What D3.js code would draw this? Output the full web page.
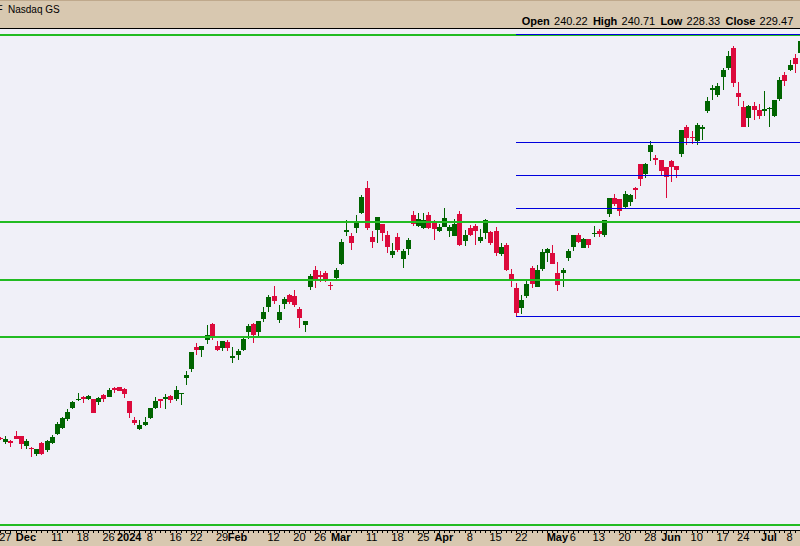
<!DOCTYPE html>
<html>
<head>
<meta charset="utf-8">
<script src="https://cdn.jsdelivr.net/npm/d3@7/dist/d3.min.js"></script>
<style>
  html, body { margin: 0; padding: 0; background: #f0f0f8; }
  svg { display: block; }
</style>
</head>
<body>
<div id="chart"></div>
<script>
// Trading sessions, listed per month (day of month)
const sessions = [
  ["2023-11", [24, 27, 28, 29, 30]],
  ["2023-12", [1, 4, 5, 6, 7, 8, 11, 12, 13, 14, 15, 18, 19, 20, 21, 22, 26, 27, 28, 29]],
  ["2024-01", [2, 3, 4, 5, 8, 9, 10, 11, 12, 16, 17, 18, 19, 22, 23, 24, 25, 26, 29, 30, 31]],
  ["2024-02", [1, 2, 5, 6, 7, 8, 9, 12, 13, 14, 15, 16, 20, 21, 22, 23, 26, 27, 28, 29]],
  ["2024-03", [1, 4, 5, 6, 7, 8, 11, 12, 13, 14, 15, 18, 19, 20, 21, 22, 25, 26, 27, 28]],
  ["2024-04", [1, 2, 3, 4, 5, 8, 9, 10, 11, 12, 15, 16, 17, 18, 19, 22, 23, 24, 25, 26, 29, 30]],
  ["2024-05", [1, 2, 3, 6, 7, 8, 9, 10, 13, 14, 15, 16, 17, 20, 21, 22, 23, 24, 28, 29, 30, 31]],
  ["2024-06", [3, 4, 5, 6, 7, 10, 11, 12, 13, 14, 17, 18, 20, 21, 24, 25, 26, 27, 28]],
  ["2024-07", [1, 2, 3, 5, 8, 9, 10]]
];

// Daily OHLC, one value per session
const opens = [
  123.19, 121.99, 122.2, 123.79, 123.79, 120.79, 120.19, 118.39, 121.69, 119.59,
  121.51, 124.39, 126.1, 128.8, 132.1, 134.5, 135.49, 134.8, 134.8, 133.9,
  136.0, 135.4, 138.19, 138.4, 137.8, 134.2, 128.41, 125.89, 127.09, 129.19,
  132.19, 134.8, 134.89, 135.7, 134.89, 136.3, 141.1, 143.8, 150.4, 149.5,
  152.5, 157.3, 150.7, 150.19, 151.9, 147.25, 148.0, 149.5, 154.9, 157.3,
  154.9, 158.8, 162.4, 165.7, 158.5, 163.3, 166.0, 165.7, 161.8, 157.15,
  168.4, 173.5, 172.0, 172.6, 169.09, 171.1, 175.3, 184.99, 183.7, 186.1,
  190.6, 198.1, 183.4, 185.5, 187.3, 184.0, 178.0, 183.4, 176.8, 179.8,
  190.0, 186.7, 186.1, 190.0, 188.2, 185.2, 186.4, 185.2, 183.7, 190.3,
  182.2, 186.1, 186.7, 182.2, 184.6, 184.9, 185.2, 178.3, 181.0, 172.3,
  168.1, 162.1, 165.7, 174.1, 168.4, 173.8, 178.6, 178.6, 172.6, 172.6,
  177.1, 180.4, 184.0, 180.1, 182.8, 184.15, 185.2, 184.0, 190.3, 195.1,
  194.8, 192.4, 193.9, 198.1, 205.3, 202.3, 208.9, 207.1, 206.5, 204.4,
  206.2, 204.7, 208.3, 216.4, 213.4, 212.2, 215.95, 221.2, 227.5, 226.0,
  231.4, 234.1, 240.22, 226.6, 222.4, 219.1, 222.7, 221.5, 221.35, 221.8,
  219.7, 224.8, 232.0, 233.5, 237.1, 238.69
];
const highs = [
  123.4, 123.7, 122.5, 125.2, 123.79, 122.8, 120.49, 119.8, 121.99, 122.5,
  124.0, 127.99, 129.49, 131.8, 134.2, 136.6, 135.7, 136.0, 134.89, 135.4,
  136.3, 138.1, 138.49, 138.5, 138.01, 134.3, 129.4, 128.5, 129.4, 132.2,
  135.31, 134.8, 136.3, 136.09, 138.7, 136.6, 143.2, 148.9, 151.6, 150.7,
  157.0, 157.6, 152.11, 152.11, 152.41, 150.4, 149.8, 153.01, 157.3, 157.6,
  158.2, 162.4, 166.0, 168.7, 163.0, 165.4, 166.3, 167.5, 162.4, 158.2,
  172.3, 174.7, 173.2, 173.2, 169.99, 174.1, 182.8, 188.5, 184.6, 190.0,
  196.0, 200.2, 185.2, 189.4, 187.3, 185.2, 181.6, 184.6, 179.8, 183.1,
  191.2, 190.6, 190.6, 190.9, 188.5, 187.3, 192.1, 187.0, 188.8, 191.2,
  185.5, 187.0, 187.3, 185.8, 188.8, 185.2, 186.4, 181.6, 181.6, 173.8,
  169.6, 166.0, 170.2, 174.7, 175.0, 179.8, 180.1, 181.0, 175.9, 174.1,
  179.8, 184.0, 184.6, 183.1, 182.8, 186.7, 185.8, 188.5, 195.1, 196.3,
  194.8, 197.2, 196.3, 198.4, 205.3, 205.6, 212.2, 208.0, 206.5, 204.4,
  206.5, 204.7, 215.5, 217.0, 215.2, 217.6, 217.0, 225.4, 229.0, 229.6,
  234.1, 239.2, 240.71, 229.9, 224.2, 223.0, 223.9, 223.3, 227.2, 222.4,
  224.5, 231.4, 232.9, 236.5, 238.3, 244.15
];
const lows = [
  122.5, 121.3, 120.49, 122.89, 119.8, 119.71, 117.49, 117.79, 118.09, 118.9,
  121.3, 124.09, 125.71, 128.2, 131.8, 134.2, 133.69, 134.59, 130.6, 133.09,
  133.99, 135.31, 136.69, 137.2, 135.19, 129.19, 127.0, 125.5, 126.79, 128.89,
  131.89, 132.19, 131.89, 133.69, 134.29, 133.09, 139.0, 142.99, 148.0, 147.49,
  151.3, 152.5, 149.2, 149.2, 149.2, 145.69, 146.5, 149.2, 152.89, 151.6,
  153.7, 158.05, 160.9, 163.3, 157.6, 161.8, 163.3, 162.4, 156.1, 154.9,
  167.5, 168.1, 169.9, 169.9, 167.5, 170.2, 175.0, 183.7, 179.5, 184.6,
  190.3, 185.5, 180.1, 181.6, 182.2, 178.6, 177.1, 178.9, 174.1, 178.0,
  186.7, 186.4, 185.8, 185.8, 182.5, 184.9, 186.4, 183.4, 183.7, 180.7,
  180.7, 183.7, 181.0, 181.6, 182.8, 181.0, 177.7, 177.7, 173.2, 168.4,
  159.7, 160.3, 165.1, 168.1, 168.4, 173.2, 175.9, 175.3, 167.2, 168.4,
  176.2, 179.2, 181.6, 180.1, 180.1, 183.4, 183.4, 183.4, 189.4, 192.7,
  189.7, 192.1, 192.7, 194.8, 198.7, 201.1, 206.2, 205.0, 202.0, 195.1,
  199.9, 201.1, 207.4, 211.0, 211.3, 211.0, 212.5, 220.6, 224.5, 225.4,
  227.5, 233.5, 228.33, 222.7, 216.4, 216.4, 218.5, 218.8, 219.7, 216.4,
  219.4, 224.2, 228.7, 233.2, 232.6, 238.6
];
const closes = [
  122.71, 122.71, 121.51, 122.89, 121.39, 122.2, 119.71, 119.8, 118.39, 122.2,
  123.4, 127.3, 129.1, 130.9, 133.9, 134.71, 134.89, 135.7, 130.69, 135.1,
  134.8, 137.5, 137.5, 137.29, 136.39, 130.69, 127.69, 127.0, 127.9, 132.1,
  134.2, 134.29, 135.31, 134.59, 137.5, 136.51, 142.0, 148.9, 149.5, 150.7,
  154.0, 153.55, 149.5, 152.11, 150.19, 147.61, 149.2, 152.8, 156.7, 154.0,
  158.2, 160.9, 165.4, 164.2, 160.9, 164.8, 163.9, 163.0, 159.1, 158.2,
  171.7, 170.2, 171.4, 170.5, 168.7, 173.5, 181.9, 185.5, 181.6, 187.6,
  195.4, 186.1, 181.9, 189.4, 184.6, 180.4, 179.2, 179.5, 179.2, 182.5,
  187.3, 188.8, 188.5, 186.1, 185.8, 186.4, 189.1, 186.4, 187.3, 181.0,
  184.0, 184.0, 185.2, 183.4, 188.5, 181.6, 178.6, 180.4, 173.5, 170.2,
  160.6, 164.5, 169.3, 169.3, 173.5, 178.9, 179.8, 175.3, 169.0, 173.5,
  179.2, 184.0, 181.9, 182.8, 181.0, 184.6, 184.3, 188.5, 195.1, 193.3,
  191.2, 196.3, 196.0, 197.5, 200.8, 205.3, 211.0, 206.5, 203.2, 201.4,
  204.4, 203.5, 215.5, 213.1, 213.1, 217.0, 216.4, 224.2, 228.1, 228.7,
  233.5, 237.7, 229.47, 225.4, 216.4, 222.7, 221.5, 219.7, 221.8, 222.19,
  224.5, 230.5, 230.29, 235.0, 235.3, 242.2
];

// Date axis labels: [session, text, bold]
const tickLabels = [
  ["2023-11-27", "27", 0], ["2023-12-01", "Dec", 1], ["2023-12-11", "11", 0],
  ["2023-12-18", "18", 0], ["2023-12-26", "26", 0], ["2024-01-02", "2024", 1],
  ["2024-01-08", "8", 0], ["2024-01-16", "16", 0], ["2024-01-22", "22", 0],
  ["2024-01-29", "29", 0], ["2024-02-01", "Feb", 1], ["2024-02-12", "12", 0],
  ["2024-02-20", "20", 0], ["2024-02-26", "26", 0], ["2024-03-01", "Mar", 1],
  ["2024-03-11", "11", 0], ["2024-03-18", "18", 0], ["2024-03-25", "25", 0],
  ["2024-04-01", "Apr", 1], ["2024-04-08", "8", 0], ["2024-04-15", "15", 0],
  ["2024-04-22", "22", 0], ["2024-05-01", "May", 1], ["2024-05-06", "6", 0],
  ["2024-05-13", "13", 0], ["2024-05-20", "20", 0], ["2024-05-28", "28", 0],
  ["2024-06-03", "Jun", 1], ["2024-06-10", "10", 0], ["2024-06-17", "17", 0],
  ["2024-06-24", "24", 0], ["2024-07-01", "Jul", 1], ["2024-07-08", "8", 0]
];

// Horizontal support / resistance levels (green)
const levels = [244.0, 187.9, 170.5, 153.4, 97.0];

// Fibonacci retracement from the April low to the July high (blue)
const fibRatios = [0, 0.382, 0.5, 0.618, 1];
const fibLowSession = "2024-04-19";
const fibHighSession = "2024-07-10";

// Session whose quote is shown in the header
const quoteSession = "2024-06-20";
const quoteFields = ["Open", "High", "Low", "Close"];

// ---------------------------------------------------------------
const pad = n => String(n).padStart(2, "0");
const dates = [];
sessions.forEach(([m, days]) => days.forEach(d => dates.push(m + "-" + pad(d))));

const bars = dates.map((d, i) => ({
  date: d, o: opens[i], h: highs[i], l: lows[i], c: closes[i]
}));
const byDate = new Map(bars.map(b => [b.date, b]));

const W = 800, H = 546;
const headerH = 28, plotTop = 29, plotBottom = 530;

const x = d3.scalePoint().domain(dates).range([0.14, 0.14 + (dates.length - 1) * 5.16]);
const y = d3.scaleLinear().domain([100, 250]).range([515, 15]);

const UP = "#006400", DOWN = "#dc0a3c", LEVEL = "#22bb22", FIB = "#0000dd";
const BEIGE = "#d8c8b0", PANEL = "#f0f0f8";

const svg = d3.select("#chart").append("svg")
  .attr("width", W).attr("height", H)
  .style("font-family", "'Liberation Sans', Arial, Helvetica, sans-serif");

// Header band
svg.append("rect").attr("x", 0).attr("y", 0).attr("width", W).attr("height", headerH).attr("fill", BEIGE);
svg.append("rect").attr("x", 0).attr("y", 0).attr("width", W).attr("height", 1).attr("fill", "#bfa98c");
svg.append("rect").attr("x", 0).attr("y", headerH).attr("width", W).attr("height", 1).attr("fill", "#000");

// Price panel
svg.append("rect").attr("x", 0).attr("y", plotTop).attr("width", W).attr("height", plotBottom - plotTop).attr("fill", PANEL);

svg.append("clipPath").attr("id", "plotClip")
  .append("rect").attr("x", 0).attr("y", plotTop).attr("width", W).attr("height", plotBottom - plotTop);

const plot = svg.append("g").attr("clip-path", "url(#plotClip)").attr("shape-rendering", "crispEdges");

// Candles
const candle = plot.append("g").selectAll("g").data(bars).join("g")
  .attr("fill", d => d.c >= d.o ? UP : DOWN);

candle.append("rect")
  .attr("x", d => Math.round(x(d.date)))
  .attr("width", 1)
  .attr("y", d => Math.round(y(d.h)))
  .attr("height", d => Math.max(1, Math.round(y(d.l)) - Math.round(y(d.h))));

candle.append("rect")
  .attr("x", d => Math.round(x(d.date)) - 2)
  .attr("width", 5)
  .attr("y", d => Math.round(y(Math.max(d.o, d.c))))
  .attr("height", d => Math.max(1, Math.round(y(Math.min(d.o, d.c))) - Math.round(y(Math.max(d.o, d.c)))));

// Green levels
plot.append("g").selectAll("line").data(levels).join("line")
  .attr("x1", 0).attr("x2", W)
  .attr("y1", d => Math.round(y(d))).attr("y2", d => Math.round(y(d)))
  .attr("stroke", LEVEL).attr("stroke-width", 2);

// Fibonacci retracement lines
const fibLow = byDate.get(fibLowSession).l;
const fibHigh = byDate.get(fibHighSession).h;
const fibStart = Math.round(x(fibLowSession));
plot.append("g").selectAll("line").data(fibRatios).join("line")
  .attr("x1", fibStart).attr("x2", W)
  .attr("y1", r => Math.floor(y(fibLow + (fibHigh - fibLow) * (1 - r))) + 0.5)
  .attr("y2", r => Math.floor(y(fibLow + (fibHigh - fibLow) * (1 - r))) + 0.5)
  .attr("stroke", FIB).attr("stroke-width", 1);

// Date axis band
svg.append("rect").attr("x", 0).attr("y", plotBottom + 1).attr("width", W).attr("height", H - plotBottom - 1).attr("fill", BEIGE);
svg.append("rect").attr("x", 0).attr("y", plotBottom).attr("width", W).attr("height", 1).attr("fill", "#000");
svg.append("g").attr("shape-rendering", "crispEdges").selectAll("rect").data(dates).join("rect")
  .attr("x", d => Math.round(x(d))).attr("y", plotBottom + 1)
  .attr("width", 1).attr("height", 2).attr("fill", "#000");

svg.append("g").selectAll("text").data(tickLabels).join("text")
  .attr("x", d => x(d[0]))
  .attr("y", 541)
  .attr("text-anchor", "middle")
  .attr("font-size", 11)
  .attr("font-weight", d => d[2] ? "bold" : "normal")
  .attr("fill", "#000")
  .text(d => d[1]);

// Header texts
svg.append("text").attr("x", -3.6).attr("y", 13.3).attr("font-size", 10).attr("fill", "#000").text("F");
svg.append("text").attr("x", 8).attr("y", 13.3).attr("font-size", 10).attr("fill", "#000").text("Nasdaq GS");

const q = byDate.get(quoteSession);
const quoteValues = [q.o, q.h, q.l, q.c];
const header = svg.append("g").attr("font-size", 11).attr("fill", "#000");
let cx = 521.7;
quoteFields.forEach((f, i) => {
  const lab = header.append("text").attr("x", cx).attr("y", 25).attr("font-weight", "bold").text(f);
  cx += lab.node().getComputedTextLength() + 4.2;
  const val = header.append("text").attr("x", cx).attr("y", 25).text(d3.format(".2f")(quoteValues[i]));
  cx += val.node().getComputedTextLength() + 5.2;
});
</script>
</body>
</html>
